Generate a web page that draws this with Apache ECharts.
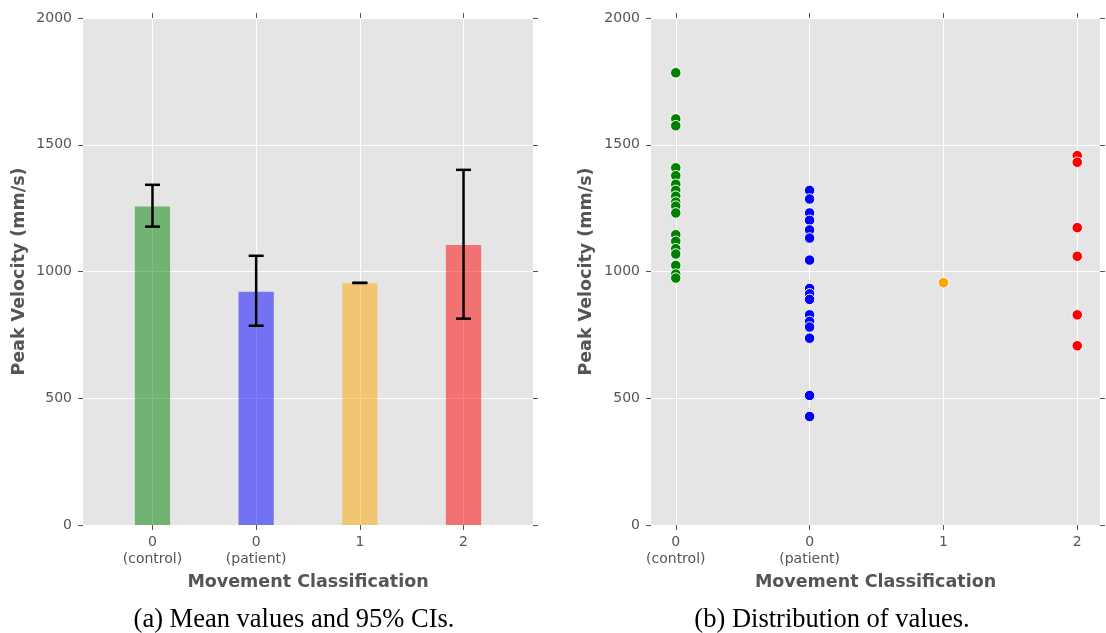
<!DOCTYPE html>
<html>
<head>
<meta charset="utf-8">
<title>Peak Velocity by Movement Classification</title>
<script src="https://cdn.jsdelivr.net/npm/echarts@6/dist/echarts.min.js"></script>
<style>
  html, body { margin: 0; padding: 0; background: #ffffff; }
  #chart { width: 1106px; height: 633px; }
</style>
</head>
<body>
<div id="chart"></div>
<script>
// Movement classes: positions on the x axis and their tick labels
const classPositions = [0, 1, 2, 3];
const classLabels = ['0\n(control)', '0\n(patient)', '1', '2'];
const classColors = ['#008000', '#0000ff', '#ffa500', '#ff0000'];

// Panel (a): mean peak velocity (mm/s) and 95% confidence interval bounds
const meanVelocity = [1256, 920, 954, 1105];
const ciLower = [1177, 786, 955, 814];
const ciUpper = [1342, 1062, 955, 1401];

// Panel (b): individual peak velocities (mm/s) per class
const controlVelocity = [1784, 1602, 1575, 1409, 1378, 1344, 1320, 1297, 1274, 1258, 1231,
                         1145, 1119, 1090, 1069, 1024, 990, 974];
const patientVelocity = [1320, 1286, 1231, 1202, 1164, 1132, 1045, 933, 912, 890, 829,
                         803, 781, 737, 511, 428];
const class1Velocity = [956];
const class2Velocity = [1457, 1431, 1173, 1060, 829, 707];

// Shared y axis scale
const yMin = 0, yMax = 2000, yStep = 500;

const GRAY = '#555555';
const tickFont = { fontFamily: 'DejaVu Sans', fontSize: 14, color: GRAY };
const nameFont = { fontFamily: 'DejaVu Sans', fontWeight: 'bold', fontSize: 17.5, color: GRAY };
const tickStyle = { show: true, inside: false, length: 5, lineStyle: { color: GRAY, width: 1 } };

function classXAxes(gridIndex, min, max) {
  return [
    {
      type: 'value', gridIndex, position: 'bottom', min, max,
      axisLine: { show: false, onZero: false },
      axisTick: Object.assign({ customValues: classPositions }, tickStyle),
      axisLabel: Object.assign({
        customValues: classPositions,
        formatter: v => { const i = classPositions.indexOf(v); return i < 0 ? '' : classLabels[i]; },
        margin: 9, lineHeight: 17
      }, tickFont),
      splitLine: { show: true, lineStyle: { color: '#ffffff', width: 1 } },
      name: 'Movement Classification', nameLocation: 'middle', nameGap: 48,
      nameTextStyle: nameFont
    },
    {
      type: 'value', gridIndex, position: 'top', min, max,
      axisLine: { show: false, onZero: false },
      axisTick: Object.assign({ customValues: classPositions }, tickStyle),
      axisLabel: { show: false },
      splitLine: { show: false }
    }
  ];
}

function velocityYAxes(gridIndex, nameGap) {
  return [
    {
      type: 'value', gridIndex, position: 'left', min: yMin, max: yMax, interval: yStep,
      axisLine: { show: false, onZero: false },
      axisTick: tickStyle,
      axisLabel: Object.assign({ margin: 11, formatter: v => String(v) }, tickFont),
      splitLine: { show: true, lineStyle: { color: '#ffffff', width: 1 } },
      name: 'Peak Velocity (mm/s)', nameLocation: 'middle', nameGap,
      nameTextStyle: nameFont
    },
    {
      type: 'value', gridIndex, position: 'right', min: yMin, max: yMax, interval: yStep,
      axisLine: { show: false, onZero: false },
      axisTick: tickStyle,
      axisLabel: { show: false },
      splitLine: { show: false }
    }
  ];
}

function scatterSeries(values, x, color) {
  return {
    type: 'scatter', xAxisIndex: 2, yAxisIndex: 2,
    data: values.map(v => [x, v]),
    symbol: 'circle', symbolSize: 10.5,
    itemStyle: { color, borderColor: '#ffffff', borderWidth: 1, opacity: 1 },
    emphasis: { disabled: true }
  };
}

const chart = echarts.init(document.getElementById('chart'), null, { renderer: 'canvas' });

chart.setOption({
  animation: false,
  backgroundColor: '#ffffff',
  grid: [
    { left: 83, right: 573, top: 18, bottom: 108, show: true, backgroundColor: '#e5e5e5', borderWidth: 0, outerBoundsMode: 'none' },
    { left: 651, right: 6, top: 18, bottom: 108, show: true, backgroundColor: '#e5e5e5', borderWidth: 0, outerBoundsMode: 'none' }
  ],
  xAxis: [...classXAxes(0, -0.67, 3.67), ...classXAxes(1, -0.185, 3.17)],
  yAxis: [...velocityYAxes(0, 55), ...velocityYAxes(1, 56)],
  series: [
    {
      type: 'custom', xAxisIndex: 0, yAxisIndex: 0,
      data: classPositions.map((x, i) => [x, meanVelocity[i], ciLower[i], ciUpper[i]]),
      encode: { x: 0, y: [1, 2, 3] },
      renderItem(params, api) {
        const x = api.value(0);
        const top = api.coord([x, api.value(1)]);
        const base = api.coord([x, 0]);
        const lo = api.coord([x, api.value(2)]);
        const hi = api.coord([x, api.value(3)]);
        const w = api.size([0.34, 0])[0];
        const cap = 7.5;
        const errStyle = { stroke: '#000000', lineWidth: 2.5 };
        return {
          type: 'group',
          children: [
            { type: 'rect', shape: { x: top[0] - w / 2, y: top[1], width: w, height: base[1] - top[1] },
              style: { fill: classColors[params.dataIndex], opacity: 0.5 } },
            { type: 'line', shape: { x1: lo[0], y1: lo[1], x2: hi[0], y2: hi[1] }, style: errStyle },
            { type: 'line', shape: { x1: hi[0] - cap, y1: hi[1], x2: hi[0] + cap, y2: hi[1] }, style: errStyle },
            { type: 'line', shape: { x1: lo[0] - cap, y1: lo[1], x2: lo[0] + cap, y2: lo[1] }, style: errStyle }
          ]
        };
      }
    },
    scatterSeries(controlVelocity, classPositions[0], classColors[0]),
    scatterSeries(patientVelocity, classPositions[1], classColors[1]),
    scatterSeries(class1Velocity, classPositions[2], classColors[2]),
    scatterSeries(class2Velocity, classPositions[3], classColors[3])
  ],
  graphic: [
    { type: 'text', x: 294, y: 620,
      style: { text: '(a) Mean values and 95% CIs.', fontFamily: 'Liberation Serif', fontSize: 26.5,
               fill: '#000000', textAlign: 'center', textVerticalAlign: 'middle' } },
    { type: 'text', x: 832, y: 620,
      style: { text: '(b) Distribution of values.', fontFamily: 'Liberation Serif', fontSize: 26.5,
               fill: '#000000', textAlign: 'center', textVerticalAlign: 'middle' } }
  ]
});
</script>
</body>
</html>
